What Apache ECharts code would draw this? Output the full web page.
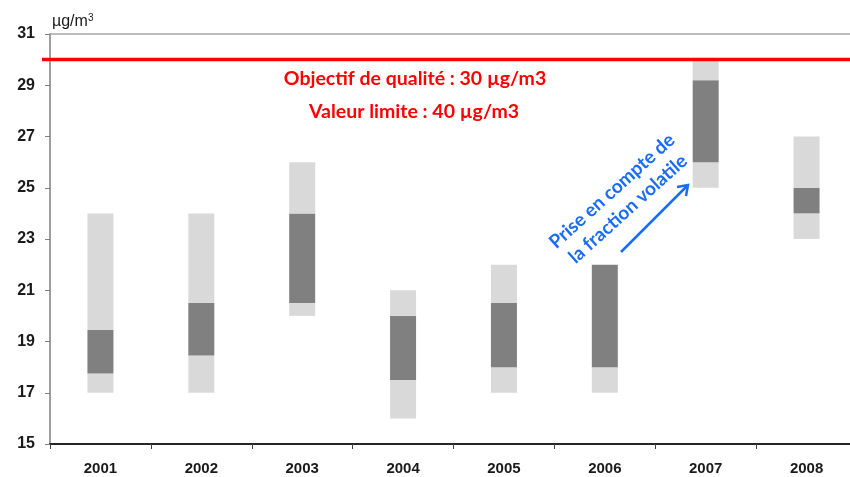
<!DOCTYPE html>
<html>
<head>
<meta charset="utf-8">
<script src="https://cdn.jsdelivr.net/npm/echarts@6/dist/echarts.min.js"></script>
<style>
  html, body { margin: 0; padding: 0; background: #fff; overflow: hidden; }
  #chart { width: 857px; height: 477px; }
</style>
</head>
<body>
<div id="chart"></div>
<script>
// Annual concentration ranges (µg/m3): outer range in light grey, inner range in dark grey
const years = ['2001', '2002', '2003', '2004', '2005', '2006', '2007', '2008'];
const outerLow  = [17, 17, 20, 16, 17, 17, 25, 23];
const outerHigh = [24, 24, 26, 21, 22, 22, 30, 27];
const innerLow  = [17.75, 18.45, 20.5, 17.5, 18, 18, 26, 24];
const innerHigh = [19.45, 20.5, 24, 20, 20.5, 22, 29.2, 25];
const yTicks = [15, 17, 19, 21, 23, 25, 27, 29, 31];
const qualityObjective = 30;

const LIGHT = '#d9d9d9';
const DARK = '#808080';
const BLUE = '#1a6cf5';

// Stacked segments: invisible base, lower light part, dark core, upper light part
const base = outerLow.slice();
const lowerLight = years.map((_, i) => +(innerLow[i] - outerLow[i]).toFixed(3));
const darkCore = years.map((_, i) => +(innerHigh[i] - innerLow[i]).toFixed(3));
const upperLight = years.map((_, i) => +(outerHigh[i] - innerHigh[i]).toFixed(3));

const chart = echarts.init(document.getElementById('chart'));
const SANS = 'Liberation Sans, Arial, sans-serif';
const NOTE_FONT = 'Lato, "Open Sans", sans-serif';

const barCommon = { type: 'bar', stack: 'range', barWidth: 26, silent: true, animation: false };

chart.setOption({
  animation: false,
  grid: { left: 50, top: 34, right: 0, bottom: 33, show: false },
  xAxis: [
    {
      type: 'category',
      data: years,
      axisLine: { lineStyle: { color: '#262626', width: 2 } },
      axisTick: { show: true, length: 5, lineStyle: { color: '#404040', width: 1 } },
      axisLabel: { fontFamily: SANS, fontWeight: 'bold', fontSize: 15, color: '#1a1a1a', margin: 17 }
    },
    {
      // top frame line of the plot area
      type: 'category', position: 'top', data: years,
      axisLine: { show: true, lineStyle: { color: '#a6a6a6', width: 1.5 } },
      axisTick: { show: false }, axisLabel: { show: false }
    }
  ],
  yAxis: {
    type: 'value',
    min: 15, max: 31, interval: 2,
    name: '{u|µg/m}{s|3}',
    nameLocation: 'end',
    nameGap: 3,
    nameTextStyle: {
      align: 'left', padding: [0, 0, 0, 2],
      rich: {
        u: { fontFamily: SANS, fontSize: 16, color: '#1a1a1a' },
        s: { fontFamily: SANS, fontSize: 10, color: '#1a1a1a', verticalAlign: 'top', padding: [0, 0, 8, 0] }
      }
    },
    axisLine: { show: true, lineStyle: { color: '#7f7f7f', width: 1.5 } },
    axisTick: { show: true, length: 5, lineStyle: { color: '#7f7f7f' } },
    splitLine: { show: false },
    axisLabel: {
      fontFamily: SANS, fontWeight: 'bold', fontSize: 16, color: '#1a1a1a', margin: 15,
      formatter: v => (yTicks.indexOf(v) >= 0 ? String(v) : '')
    }
  },
  series: [
    Object.assign({}, barCommon, { name: 'base', data: base, itemStyle: { color: 'transparent' } }),
    Object.assign({}, barCommon, { name: 'bas', data: lowerLight, itemStyle: { color: LIGHT } }),
    Object.assign({}, barCommon, { name: 'coeur', data: darkCore, itemStyle: { color: DARK } }),
    Object.assign({}, barCommon, {
      name: 'haut', data: upperLight, itemStyle: { color: LIGHT },
      markLine: {
        silent: true, symbol: 'none', animation: false,
        label: { show: false },
        lineStyle: { color: '#ff0000', width: 3.3, type: 'solid' },
        data: [[{ x: 42, yAxis: qualityObjective }, { x: 857, yAxis: qualityObjective }]]
      }
    })
  ],
  graphic: [
    {
      type: 'text', silent: true,
      style: {
        text: 'Objectif de qualité : 30 µg/m3', x: 415, y: 79,
        align: 'center', verticalAlign: 'middle',
        font: 'bold 19.5px ' + NOTE_FONT, fill: '#ff0000'
      }
    },
    {
      type: 'text', silent: true,
      style: {
        text: 'Valeur limite : 40 µg/m3', x: 414, y: 112,
        align: 'center', verticalAlign: 'middle',
        font: 'bold 19.5px ' + NOTE_FONT, fill: '#ff0000'
      }
    },
    {
      type: 'group', x: 620, y: 200, rotation: 42 * Math.PI / 180, silent: true,
      children: [
        {
          type: 'text',
          style: {
            text: 'Prise en compte de', x: 0, y: -12,
            align: 'center', verticalAlign: 'middle',
            font: 'bold 19px ' + NOTE_FONT, fill: BLUE
          }
        },
        {
          type: 'text',
          style: {
            text: 'la fraction volatile', x: 0, y: 12,
            align: 'center', verticalAlign: 'middle',
            font: 'bold 19px ' + NOTE_FONT, fill: BLUE
          }
        }
      ]
    },
    {
      type: 'line', silent: true,
      shape: { x1: 621, y1: 252, x2: 687, y2: 186 },
      style: { stroke: BLUE, lineWidth: 2.5 }
    },
    {
      type: 'polyline', silent: true,
      shape: { points: [[677, 187], [688, 185], [686, 196]] },
      style: { stroke: BLUE, lineWidth: 2.5, fill: null }
    }
  ]
});
</script>
</body>
</html>
